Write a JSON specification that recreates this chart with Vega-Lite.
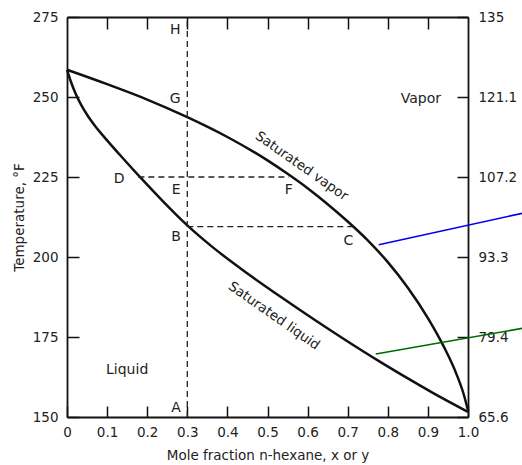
{
  "$schema": "https://vega.github.io/schema/vega-lite/v6.json",
  "width": 401,
  "height": 400,
  "autosize": {"type": "none"},
  "padding": {"left": 67, "top": 17, "right": 54, "bottom": 48},
  "background": "white",
  "config": {
    "view": {"stroke": null},
    "font": "DejaVu Sans",
    "axis": {
      "domainColor": "#111",
      "domainWidth": 1.8,
      "tickColor": "#111",
      "tickWidth": 1.5,
      "labelFont": "DejaVu Sans",
      "labelFontSize": 13.5,
      "labelColor": "#222",
      "titleFont": "DejaVu Sans",
      "titleFontSize": 13.5,
      "titleFontWeight": "normal",
      "titleColor": "#222",
      "grid": false,
      "labelFlush": false,
      "labelOverlap": false
    }
  },
  "datasets": {
    "curves": [
      {"curve": "vapor", "x": 0, "t": 258.5},
      {"curve": "vapor", "x": 0.1, "t": 254.0},
      {"curve": "vapor", "x": 0.2, "t": 249.2},
      {"curve": "vapor", "x": 0.3, "t": 243.7},
      {"curve": "vapor", "x": 0.4, "t": 237.5},
      {"curve": "vapor", "x": 0.5, "t": 230.2},
      {"curve": "vapor", "x": 0.55, "t": 226.0},
      {"curve": "vapor", "x": 0.6, "t": 221.5},
      {"curve": "vapor", "x": 0.65, "t": 216.5},
      {"curve": "vapor", "x": 0.7, "t": 211.1},
      {"curve": "vapor", "x": 0.75, "t": 205.2},
      {"curve": "vapor", "x": 0.8, "t": 198.4},
      {"curve": "vapor", "x": 0.85, "t": 190.4},
      {"curve": "vapor", "x": 0.9, "t": 180.9},
      {"curve": "vapor", "x": 0.94, "t": 171.9},
      {"curve": "vapor", "x": 0.97, "t": 163.8},
      {"curve": "vapor", "x": 0.99, "t": 156.8},
      {"curve": "vapor", "x": 1.0, "t": 152.0},
      {"curve": "liquid", "x": 0, "t": 258.5},
      {"curve": "liquid", "x": 0.01, "t": 254.7},
      {"curve": "liquid", "x": 0.02, "t": 251.5},
      {"curve": "liquid", "x": 0.035, "t": 247.6},
      {"curve": "liquid", "x": 0.05, "t": 244.45},
      {"curve": "liquid", "x": 0.07, "t": 240.95},
      {"curve": "liquid", "x": 0.1, "t": 236.45},
      {"curve": "liquid", "x": 0.14, "t": 230.77},
      {"curve": "liquid", "x": 0.18, "t": 225.25},
      {"curve": "liquid", "x": 0.24, "t": 217.33},
      {"curve": "liquid", "x": 0.3, "t": 209.89},
      {"curve": "liquid", "x": 0.36, "t": 203.4},
      {"curve": "liquid", "x": 0.45, "t": 194.85},
      {"curve": "liquid", "x": 0.53, "t": 187.8},
      {"curve": "liquid", "x": 0.62, "t": 180.15},
      {"curve": "liquid", "x": 0.7, "t": 173.6},
      {"curve": "liquid", "x": 0.78, "t": 167.3},
      {"curve": "liquid", "x": 0.85, "t": 162.05},
      {"curve": "liquid", "x": 0.91, "t": 157.7},
      {"curve": "liquid", "x": 1.0, "t": 151.6}
    ],
    "dashes": [
      {"seg": "HA", "x": 0.3, "t": 150},
      {"seg": "HA", "x": 0.3, "t": 275},
      {"seg": "DF", "x": 0.178, "t": 225},
      {"seg": "DF", "x": 0.553, "t": 225},
      {"seg": "BC", "x": 0.3, "t": 209.5},
      {"seg": "BC", "x": 0.712, "t": 209.5}
    ],
    "points": [
      {"label": "H", "x": 0.27, "t": 271},
      {"label": "G", "x": 0.27, "t": 249.4},
      {"label": "D", "x": 0.13, "t": 224.3},
      {"label": "E", "x": 0.272, "t": 221},
      {"label": "F", "x": 0.553, "t": 221},
      {"label": "B", "x": 0.272, "t": 206.3},
      {"label": "C", "x": 0.702, "t": 205},
      {"label": "A", "x": 0.272, "t": 152.8}
    ],
    "regions": [
      {"label": "Liquid", "x": 0.15, "t": 164.7},
      {"label": "Vapor", "x": 0.8825, "t": 249.4}
    ],
    "curvelabels": [
      {"label": "Saturated vapor", "x": 0.585, "t": 228.4},
      {"label": "Saturated liquid", "x": 0.516, "t": 181.6}
    ],
    "pointers": [
      {"ptr": "blue", "x": 0.7775, "t": 203.8},
      {"ptr": "blue", "x": 1.14, "t": 213.8},
      {"ptr": "green", "x": 0.77, "t": 169.7},
      {"ptr": "green", "x": 1.14, "t": 177.8}
    ]
  },
  "resolve": {"axis": {"x": "independent", "y": "independent"}},
  "layer": [
    {
      "data": {"name": "curves"},
      "mark": {"type": "line", "color": "#111", "strokeWidth": 2.5, "interpolate": "monotone"},
      "encoding": {
        "x": {"field": "x", "type": "quantitative",
              "scale": {"domain": [0, 1], "nice": false, "zero": false},
              "axis": {"orient": "bottom", "values": [0, 0.1, 0.2, 0.3, 0.4, 0.5, 0.6, 0.7, 0.8, 0.9, 1.0],
                       "labelExpr": "datum.value == 0 ? '0' : format(datum.value, '.1f')",
                       "tickSize": -11, "labelPadding": 19,
                       "title": "Mole fraction n-hexane, x or y", "titlePadding": 10}},
        "y": {"field": "t", "type": "quantitative",
              "scale": {"domain": [150, 275], "nice": false, "zero": false},
              "axis": {"orient": "left", "values": [150, 175, 200, 225, 250, 275],
                       "tickSize": -12, "labelPadding": 21,
                       "title": "Temperature, °F", "titlePadding": 6}},
        "detail": {"field": "curve"}
      }
    },
    {
      "data": {"name": "dashes"},
      "mark": {"type": "line", "color": "#222", "strokeWidth": 1.3, "strokeDash": [6, 4]},
      "encoding": {
        "x": {"field": "x", "type": "quantitative",
              "axis": {"orient": "top", "values": [0.1, 0.2, 0.3, 0.4, 0.5, 0.6, 0.7, 0.8, 0.9],
                       "labels": false, "tickSize": -12, "title": null}},
        "y": {"field": "t", "type": "quantitative",
              "axis": {"orient": "right", "values": [150, 175, 200, 225, 250, 275],
                       "labelExpr": "datum.value == 275 ? '135' : format((datum.value - 32) * 5 / 9, '.1f')",
                       "tickSize": -11, "labelPadding": 21, "title": null}},
        "detail": {"field": "seg"}
      }
    },
    {
      "data": {"name": "points"},
      "mark": {"type": "text", "fontSize": 14, "color": "#222", "font": "DejaVu Sans"},
      "encoding": {
        "x": {"field": "x", "type": "quantitative", "axis": null},
        "y": {"field": "t", "type": "quantitative", "axis": null},
        "text": {"field": "label"}
      }
    },
    {
      "data": {"name": "regions"},
      "mark": {"type": "text", "fontSize": 14, "color": "#222", "font": "DejaVu Sans"},
      "encoding": {
        "x": {"field": "x", "type": "quantitative", "axis": null},
        "y": {"field": "t", "type": "quantitative", "axis": null},
        "text": {"field": "label"}
      }
    },
    {
      "data": {"name": "curvelabels"},
      "mark": {"type": "text", "fontSize": 13.5, "color": "#222", "font": "DejaVu Sans", "angle": 35},
      "encoding": {
        "x": {"field": "x", "type": "quantitative", "axis": null},
        "y": {"field": "t", "type": "quantitative", "axis": null},
        "text": {"field": "label"}
      }
    },
    {
      "data": {"name": "pointers"},
      "mark": {"type": "line", "strokeWidth": 1.6, "clip": false},
      "encoding": {
        "x": {"field": "x", "type": "quantitative", "axis": null},
        "y": {"field": "t", "type": "quantitative", "axis": null},
        "detail": {"field": "ptr"},
        "color": {"field": "ptr", "type": "nominal",
                  "scale": {"domain": ["blue", "green"], "range": ["#0000ee", "#006a00"]},
                  "legend": null}
      }
    }
  ]
}
